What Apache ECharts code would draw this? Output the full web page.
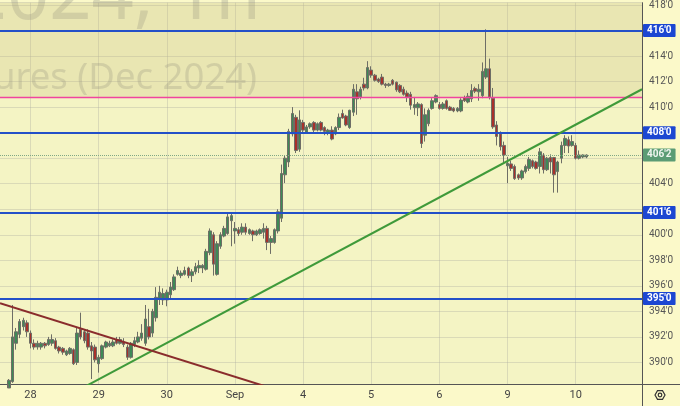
<!DOCTYPE html>
<html><head><meta charset="utf-8">
<script src="https://cdn.jsdelivr.net/npm/echarts@6/dist/echarts.min.js"></script>
<style>html,body{margin:0;padding:0;background:#fbf9c9;}#c{width:680px;height:406px;}</style>
</head><body><div id="c"></div>
<script>
// sessions on the time axis (first one is only partly visible)
const sessions = ['27','28','29','30','Sep','4','5','6','9','10'];
const sessionBars = [8,19,19,19,19,19,19,19,19,19];
const barsPerSession = 19;

// first two bars lie below the visible range: not readable
const opens = [null,null,388.0,388.5,391.5,392.2,392.8,393.1,392.3,391.5,
391.2,391.2,391.5,391.4,391.5,391.7,391.2,391.1,390.6,390.7,
391.0,390.0,392.6,392.4,392.3,391.3,391.2,389.9,390.3,391.2,
391.3,391.3,391.8,391.5,391.6,391.2,390.4,391.4,391.6,391.9,
391.5,392.8,392.3,393.5,395.0,394.9,394.9,395.3,395.7,396.9,
396.8,396.9,397.4,396.8,397.1,397.4,397.4,397.3,398.6,400.0,
396.9,399.1,399.9,400.1,401.1,400.3,400.4,400.2,400.6,400.1,
400.3,400.0,400.1,400.2,400.5,399.4,399.4,400.3,401.3,404.7,
405.7,407.9,409.2,406.7,408.8,408.0,408.45,408.8,408.2,408.8,
408.4,408.0,408.2,407.9,408.4,409.5,409.3,408.4,409.6,411.2,
410.8,411.8,411.5,412.9,412.5,412.2,412.35,411.8,411.7,412.1,
411.95,411.7,411.4,411.1,411.0,409.95,409.95,410.2,407.8,408.7,
409.9,410.4,410.2,409.9,410.5,410.0,409.9,409.7,409.7,410.75,
410.4,410.65,411.45,411.2,410.9,412.35,413.0,410.7,408.6,407.9,
407.0,405.4,405.55,405.35,404.7,404.45,404.95,405.2,405.8,405.7,
405.35,406.25,405.1,406.05,406.05,404.95,406.0,407.0,407.45,407.0,
407.0,406.0,406.1,406.1];
const closes = [null,null,388.6,392.0,392.4,393.2,393.3,392.4,391.5,391.2,
391.5,391.5,391.3,391.8,391.8,391.1,390.9,390.8,390.9,391.1,
389.9,392.3,392.0,391.7,391.2,390.9,390.2,390.4,391.3,391.6,
391.5,391.6,391.5,391.8,391.4,390.4,391.5,391.7,392.0,392.3,
393.4,392.0,394.0,395.1,395.5,395.4,395.5,395.9,396.7,397.2,
397.0,397.2,396.8,397.1,397.5,397.6,397.6,398.7,400.3,397.7,
399.3,400.0,400.5,401.4,401.5,400.5,400.1,400.6,400.2,400.4,
400.0,400.3,400.4,400.5,399.4,399.7,400.4,401.8,404.8,406.0,
408.1,409.5,406.6,409.0,408.2,408.45,408.7,408.2,408.7,408.2,
408.1,408.2,407.5,408.4,409.2,409.15,408.6,409.75,411.4,410.65,
411.4,411.5,413.1,412.5,412.1,412.0,411.8,411.7,411.8,411.8,
411.35,411.2,411.0,410.8,410.15,410.2,410.25,407.15,409.4,409.75,
410.5,410.9,409.9,410.25,409.9,409.75,409.7,409.9,410.55,410.5,
410.85,411.3,411.25,411.4,412.8,413.0,410.8,408.45,407.7,406.9,
406.25,405.6,405.2,404.4,404.45,405.0,405.35,405.9,405.35,405.2,
406.5,405.1,406.0,405.7,404.7,405.7,407.0,407.55,406.95,407.3,
406.0,406.25,406.25,406.25];
const lows = [null,null,388.3,388.4,391.0,391.9,392.5,392.0,391.1,391.0,
391.0,391.0,391.1,391.3,391.3,391.0,390.7,390.6,390.5,390.6,
389.8,389.8,391.8,391.5,391.0,388.7,390.0,389.2,390.2,391.1,
391.2,391.2,391.4,391.4,391.2,390.2,390.3,391.2,391.5,391.7,
391.3,391.8,392.0,393.2,394.5,394.5,394.4,395.0,395.6,396.8,
396.6,396.8,396.6,396.3,396.9,397.0,397.0,397.2,398.4,396.8,
396.8,398.9,399.8,400.0,399.1,399.3,399.9,400.0,400.0,400.0,
399.5,399.9,400.0,399.7,398.8,398.5,399.3,400.1,401.0,404.05,
405.3,407.7,406.4,406.5,407.9,407.9,408.3,408.0,408.1,408.1,
407.8,407.8,407.4,407.8,408.2,409.1,408.5,408.3,409.3,409.4,
410.6,411.3,411.4,412.3,412.0,411.9,411.7,411.5,411.6,411.7,
411.2,411.1,410.9,410.4,409.8,409.4,409.3,406.8,407.3,408.5,
409.8,410.3,409.8,409.8,409.8,409.7,409.6,409.6,409.6,410.4,
410.3,410.4,411.1,410.5,410.7,412.2,410.6,408.3,407.0,406.6,
405.6,404.05,405.0,404.3,404.3,404.3,404.8,405.0,405.2,405.1,
404.8,404.8,405.0,404.8,403.3,403.3,405.6,406.4,406.4,406.9,
405.9,405.9,406.0,406.0];
const highs = [null,null,388.7,394.5,392.7,393.4,393.5,393.3,392.5,391.8,
391.7,391.6,391.6,392.0,392.2,391.9,391.3,391.2,391.0,391.2,
391.1,392.7,393.9,392.6,392.6,391.6,391.4,390.6,391.4,391.7,
391.7,391.8,392.0,392.0,391.9,391.4,391.6,392.0,392.4,393.0,
394.5,394.2,394.2,395.9,396.0,395.8,395.7,396.3,396.9,397.5,
397.2,397.5,397.5,397.3,397.8,398.0,397.7,398.9,400.5,400.2,
399.5,400.2,400.7,401.7,401.7,401.0,400.6,400.9,400.9,400.5,
400.4,400.4,400.5,400.9,400.7,399.9,400.5,402.0,405.5,406.2,
408.3,410.0,409.4,409.75,409.0,408.6,408.8,408.9,408.8,408.9,
408.5,408.3,408.5,408.5,409.5,409.8,409.4,409.8,411.8,411.8,
411.6,412.3,413.6,413.2,412.6,412.3,412.6,411.9,411.9,412.2,
412.0,411.8,411.6,411.3,411.2,410.8,410.4,410.3,409.9,409.9,
410.7,411.0,410.4,410.4,410.6,410.1,410.0,410.0,410.7,410.9,
411.1,411.8,411.6,411.8,413.5,416.1,413.8,411.5,408.9,408.1,
407.3,406.1,405.8,405.5,404.8,405.1,405.5,406.1,405.9,405.8,
406.8,406.4,406.1,406.3,406.1,405.8,407.3,407.8,407.7,407.8,
407.2,406.6,406.3,406.3];

const levelLines = [416, 408, 401.75, 395];
const pinkLevel = 410.75;
const lastPrice = 406.25;
const greenTrend = [[-0.5, 384.55], [178.5, 411.40]];
const brownTrend = [[-0.5, 394.63], [90, 386.68]];
const yMin = 388.31, yMax = 418.18;
const watermark1 = 'ZCZ2024, 1h';
const watermark2 = 'Corn Futures (Dec 2024)';

function fmt(v){ const i = Math.floor(v + 1e-9); const e = Math.round((v - i) * 8); return i + "'" + e; }

const categories = [];
sessions.forEach((s, si) => {
  const n = sessionBars[si];
  const start = barsPerSession - n;
  for (let k = 0; k < n; k++) categories.push(s + '|' + (start + k));
});
const candleData = opens.map((o, i) => o == null ? '-' : [o, closes[i], lows[i], highs[i]]);
const isSessionStart = (idx, val) => String(val).endsWith('|0');
const nSlots = categories.length;
const coveredLabels = [402, 406, 408, 416];
const pinkData = [[-0.5, pinkLevel], [nSlots - 0.5, pinkLevel]];

const chart = echarts.init(document.getElementById('c'), null, {renderer: 'canvas'});
const boxLabel = (txt, bg, fg) => ({show: true, position: 'end', distance: 1, formatter: txt,
  backgroundColor: bg, color: fg, fontSize: 10, fontWeight: 'bold',
  fontFamily: 'Roboto, sans-serif', padding: [2, 4, 1, 4], borderRadius: 1});

chart.setOption({
  animation: false,
  backgroundColor: '#fbf9c9',
  grid: {left: 0, right: 38, top: 0, bottom: 22, show: true, backgroundColor: '#f4f4c4', borderWidth: 0},
  xAxis: [{
    type: 'category', data: categories, boundaryGap: true,
    axisLine: {show: true, onZero: false, lineStyle: {color: '#555', width: 1}},
    axisTick: {show: false},
    axisLabel: {interval: isSessionStart, formatter: v => v.split('|')[0], color: '#444', fontSize: 11, margin: 6, fontFamily: 'Roboto, sans-serif'},
    splitLine: {show: true, interval: isSessionStart, alignWithLabel: true, lineStyle: {color: 'rgba(170,170,160,0.35)', width: 1}}
  }, {
    type: 'value', min: -0.5, max: nSlots - 0.5, show: false, axisLine: {show: false, onZero: false}, splitLine: {show: false}
  }],
  yAxis: [{
    type: 'value', position: 'right', min: yMin, max: yMax, splitNumber: 15,
    axisLine: {show: true, onZero: false, lineStyle: {color: '#555', width: 1}},
    axisTick: {show: false},
    axisLabel: {showMinLabel: false, showMaxLabel: false, color: '#555', fontSize: 10, margin: 7, fontFamily: 'Roboto, sans-serif',
      formatter: v => coveredLabels.some(c => Math.abs(c - v) < 1e-6) ? '' : fmt(v)},
    splitLine: {show: true, lineStyle: {color: 'rgba(170,170,160,0.35)', width: 1}}
  }],
  graphic: [
    {type: 'text', z: 1, silent: true, style: {text: watermark1, x: 261, y: -2, textAlign: 'right', textVerticalAlign: 'middle',
      font: '74px "Noto Sans", sans-serif', fill: 'rgba(140,140,130,0.30)'}},
    {type: 'text', z: 1, silent: true, style: {text: watermark2, x: 257, y: 79, textAlign: 'right', textVerticalAlign: 'middle',
      font: '36.5px "Noto Sans", sans-serif', fill: 'rgba(140,140,130,0.30)'}},
    {type: 'line', z: 10, silent: true, shape: {x1: 642, y1: 384.5, x2: 680, y2: 384.5}, style: {stroke: '#555', lineWidth: 1}},
    {type: 'line', z: 10, silent: true, shape: {x1: 642.5, y1: 384, x2: 642.5, y2: 406}, style: {stroke: '#555', lineWidth: 1}},
    {type: 'polygon', z: 10, silent: true, shape: {points: [[655,395],[657.5,390.7],[662.5,390.7],[665,395],[662.5,399.3],[657.5,399.3]]},
      style: {fill: 'none', stroke: '#333', lineWidth: 1.2}},
    {type: 'circle', z: 10, silent: true, shape: {cx: 660, cy: 395, r: 1.8}, style: {fill: 'none', stroke: '#333', lineWidth: 1.2}}
  ],
  series: [
    {
      type: 'line', xAxisIndex: 1, yAxisIndex: 0, data: [], z: 1, silent: true,
      markArea: {silent: true, itemStyle: {color: 'rgba(199,191,126,0.26)', borderWidth: 0},
        data: [[{yAxis: pinkLevel}, {yAxis: yMax}]]}
    },
    {
      type: 'candlestick', xAxisIndex: 0, yAxisIndex: 0, data: candleData, barWidth: 3, z: 3, clip: true,
      itemStyle: {color: '#3e8a56', color0: '#a8302a', borderColor: '#6e6e66', borderColor0: '#6e6e66', borderWidth: 1}
    },
    {type: 'line', xAxisIndex: 1, yAxisIndex: 0, data: pinkData, showSymbol: false, clip: true, z: 4, silent: true,
      lineStyle: {color: '#f0449f', width: 1.5, opacity: 1}},
    {
      type: 'line', xAxisIndex: 1, yAxisIndex: 0, data: [], z: 4, silent: true,
      markLine: {silent: true, symbol: 'none', animation: false,
        data: [
          {yAxis: lastPrice, lineStyle: {color: '#7fa885', width: 1, type: 'dotted'},
            label: boxLabel(fmt(lastPrice), '#5b9c74', '#eef5ee')},
          ...levelLines.map(v => ({yAxis: v, lineStyle: {color: '#2350c8', width: 2, type: 'solid'},
            label: boxLabel(fmt(v), '#1c47d2', '#ffffff')}))
        ]}
    },
    {type: 'line', xAxisIndex: 1, yAxisIndex: 0, data: greenTrend, showSymbol: false, clip: true, z: 6, silent: true,
      lineStyle: {color: '#3f9a3a', width: 2}},
    {type: 'line', xAxisIndex: 1, yAxisIndex: 0, data: brownTrend, showSymbol: false, clip: true, z: 6, silent: true,
      lineStyle: {color: '#8a2c2c', width: 2}}
  ]
});
</script></body></html>
